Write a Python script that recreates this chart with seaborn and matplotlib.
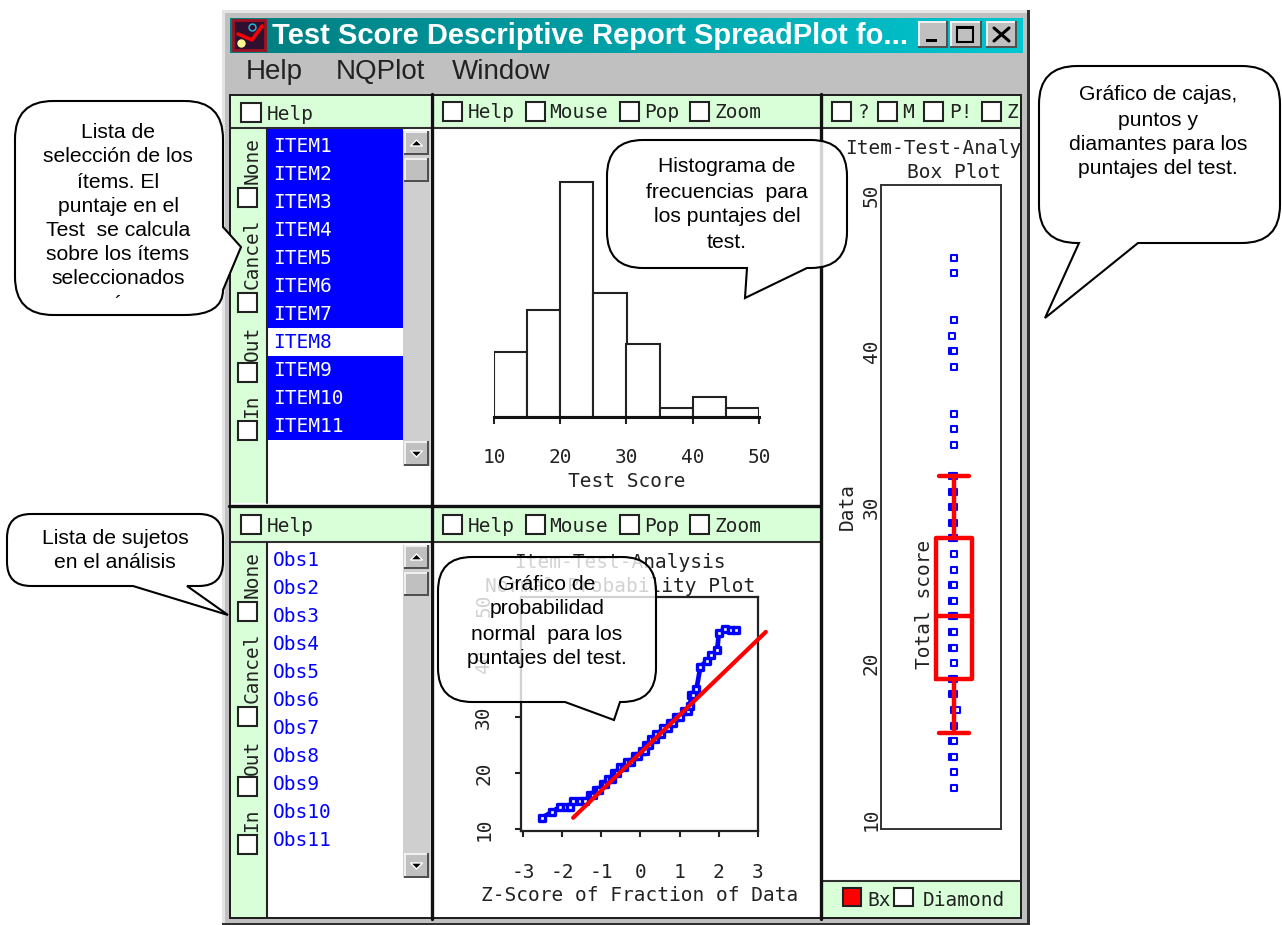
import numpy as np
import pandas as pd
import seaborn as sns
import matplotlib.pyplot as plt
from matplotlib.patches import Rectangle, PathPatch, Polygon
from matplotlib.path import Path

W, H = 1282, 925

# data
hist_edges = [10, 15, 20, 25, 30, 35, 40, 45, 50]
hist_left = [10, 15, 20, 25, 30, 35, 40, 45]
hist_pct = [10.1, 16.7, 36.6, 19.3, 11.4, 1.4, 3.1, 1.4]
hist_ticks = [10, 20, 30, 40, 50]

qq_z = [-2.52, -2.27, -2.05, -1.90, -1.80, -1.72, -1.55, -1.42, -1.29, -1.20,
        -1.14, -1.05, -0.95, -0.90, -0.83, -0.72, -0.68, -0.61, -0.53, -0.42,
        -0.34, -0.23, -0.15, -0.06, 0.03, 0.11, 0.15, 0.22, 0.28, 0.36,
        0.40, 0.52, 0.58, 0.70, 0.76, 0.83, 0.90, 1.02, 1.10, 1.22,
        1.26, 1.30, 1.35, 1.43, 1.53, 1.69, 1.81, 1.96, 2.00, 2.15,
        2.32, 2.45]
qq_score = [12, 13, 14, 14, 14, 15, 15, 15, 16, 16,
            17, 17, 18, 18, 19, 19, 20, 20, 21, 21,
            22, 22, 23, 23, 24, 24, 25, 25, 26, 26,
            27, 27, 28, 28, 29, 29, 30, 30, 31, 31,
            32, 34, 34, 35, 39, 40, 41, 42, 45, 45.8,
            45.6, 45.6]
qq_line_z = [-1.72, 3.2]
qq_line_y = [12.0, 45.2]
qq_xticks = [-3, -2, -1, 0, 1, 2, 3]
qq_yticks = [10, 20, 30, 40, 50]

box_summary = [15.5, 19, 23, 28, 32]
box_scores = [46, 45, 42, 41, 40, 40, 39, 36, 35, 34, 32, 32, 31, 31, 30, 30, 29, 29,
              28, 28, 27, 26, 25, 25, 24, 24, 23, 23, 22, 22, 21, 21, 20, 19, 19,
              18, 18, 17, 17, 16, 15, 15, 14, 14, 13, 12]
box_jitter = [0, 0, 0, -2.5, -2.5, 0, 0, 0, 0, 0, -2.5, 0, -2.5, 0, -2.5, 0, -2.5, 0,
              -2.5, 0, 0, 0, -2.5, 0, -2.5, 0, -2.5, 0, -2.5, 0, -2.5, 0, 0, -2.5, 0,
              -2.5, 0, 0, 2.5, 0, -2.5, 0, -2.5, 0, 0, 0]
box_yticks = [10, 20, 30, 40, 50]

item_names = ['ITEM1', 'ITEM2', 'ITEM3', 'ITEM4', 'ITEM5', 'ITEM6',
              'ITEM7', 'ITEM8', 'ITEM9', 'ITEM10', 'ITEM11']
obs_names = ['Obs1', 'Obs2', 'Obs3', 'Obs4', 'Obs5', 'Obs6',
             'Obs7', 'Obs8', 'Obs9', 'Obs10', 'Obs11']
side_buttons = ['None', 'Cancel', 'Out', 'In']
menu_names = ['Help', 'NQPlot', 'Window']

GRAY = '#c0c0c0'
GREEN = '#d9ffd9'
DARK = '#222222'
BLUE = '#0000ff'
RED = '#ff0000'
MONO = 'DejaVu Sans Mono'
SANS = 'Liberation Sans'

sns.set_theme(style='white')
plt.rcParams['font.family'] = SANS
plt.rcParams['font.size'] = 14
plt.rcParams['axes.unicode_minus'] = False

fig = plt.figure(figsize=(W / 100, H / 100), dpi=100, facecolor='white')


def px_axes(x0, y0, x1, y1, **kw):
    # axes from pixel box, y counted from the top like the screenshot
    return fig.add_axes([x0 / W, 1 - y1 / H, (x1 - x0) / W, (y1 - y0) / H], **kw)


def rect(ax, x0, y0, x1, y1, fc, ec='none', lw=0, z=1):
    ax.add_patch(Rectangle((x0, y0), x1 - x0, y1 - y0, fc=fc, ec=ec, lw=lw, zorder=z))


def mono(ax, x, y, s, color=DARK, ha='left', rot=0, **kw):
    return ax.text(x, y, s, color=color, ha=ha, va='center', rotation=rot,
                   family=MONO, fontsize=14, zorder=6, **kw)


def check(ax, x0, y0, x1, y1, fc='white'):
    rect(ax, x0, y0, x1, y1, fc, DARK, 1.5, z=5)


def bevel(ax, x0, y0, x1, y1):
    rect(ax, x0, y0, x1, y1, '#505050', z=4)
    rect(ax, x0, y0, x1 - 2, y1 - 2, '#f0f0f0', z=4)
    rect(ax, x0 + 2, y0 + 2, x1 - 2, y1 - 2, GRAY, z=4)


def scrollbar(ax, top, bottom):
    x0, x1 = 403, 430
    rect(ax, x0, top, x1, bottom, '#cfcfcf', z=3)
    bevel(ax, x0 + 1, top, x1 - 1, top + 24)
    bevel(ax, x0 + 1, top + 27, x1 - 1, top + 51)
    bevel(ax, x0 + 1, bottom - 25, x1 - 1, bottom)
    xm = (x0 + x1) / 2
    ax.add_patch(Polygon([[xm - 6, top + 15], [xm + 6, top + 15], [xm, top + 9]], fc='black', zorder=6))
    ax.add_patch(Polygon([[xm - 6, bottom - 15], [xm + 6, bottom - 15], [xm, bottom - 9]], fc='black', zorder=6))


def side_column(ax, dy):
    rect(ax, 231, 128 + dy, 266, 503 + dy if dy == 0 else 917, GREEN, z=2)
    for name, yc, cy in zip(side_buttons, [160, 254, 343, 406], [188, 293, 363, 421]):
        mono(ax, 252, yc + dy, name, rot=90, ha='center')
        check(ax, 238, cy + dy, 257, cy + 19 + dy)
    ax.plot([266.5, 266.5], [128 + dy, 503 + dy if dy == 0 else 917], color=DARK, lw=1.5, zorder=4)


# window chrome, underneath the plots
bg = fig.add_axes([0, 0, 1, 1], zorder=0)
bg.set_xlim(0, W)
bg.set_ylim(H, 0)
bg.axis('off')

rect(bg, 222, 10, 1030, 925, '#303030')
rect(bg, 222, 10, 1027, 923, '#e4e4e4')
rect(bg, 225, 13, 1027, 923, GRAY)

grad = np.linspace(0, 1, 256).reshape(1, -1, 1)
grad = np.concatenate([0 * grad, 0.49 + 0.29 * grad, 0.50 + 0.32 * grad], axis=2)
bg.imshow(grad, extent=(230, 1023, 53, 18), aspect='auto', zorder=1)
bg.set_xlim(0, W)
bg.set_ylim(H, 0)

# icon
rect(bg, 233, 20, 265, 50, '#301030', '#a01020', 2, z=2)
bg.plot([238, 252, 262], [34, 40, 26], color=RED, lw=2.5, zorder=3)
bg.plot([241], [43], marker='o', ms=5, color='#ffff90', zorder=3)
bg.plot([252], [27], marker='o', ms=5, mfc='none', mec='#20c0e0', zorder=3)

bg.text(272, 36, 'Test Score Descriptive Report SpreadPlot fo...', color='white',
        fontsize=21, fontweight='bold', va='center', zorder=3)

# title bar buttons
bevel(bg, 918, 21, 948, 48)
bevel(bg, 950, 21, 982, 48)
bevel(bg, 986, 21, 1017, 48)
rect(bg, 926, 39, 937, 42, 'black', z=6)
rect(bg, 957, 27, 973, 42, 'none', 'black', 1.5, z=6)
rect(bg, 957, 26, 973, 29, 'black', z=6)
bg.plot([994, 1009], [28, 41], color='black', lw=2.2, zorder=6)
bg.plot([994, 1009], [41, 28], color='black', lw=2.2, zorder=6)

for name, x in zip(menu_names, [246, 336, 452]):
    bg.text(x, 72, name, color=DARK, fontsize=20, va='center', zorder=3)

# panels
rect(bg, 229, 94, 1022, 919, '#202020')
rect(bg, 231, 96, 1020, 917, 'white', z=1)
rect(bg, 231, 96, 430, 128, GREEN, z=2)
rect(bg, 433, 96, 819, 128, GREEN, z=2)
rect(bg, 822, 96, 1020, 128, GREEN, z=2)
rect(bg, 231, 508, 430, 542, GREEN, z=2)
rect(bg, 433, 508, 819, 542, GREEN, z=2)
rect(bg, 822, 881, 1020, 917, GREEN, z=2)
for y, x0, x1 in [(128, 231, 1020), (542, 231, 820), (881, 822, 1020)]:
    bg.plot([x0, x1], [y, y], color='#303030', lw=1.5, zorder=4)
bg.plot([229, 820], [505.5, 505.5], color='#111111', lw=2.4, zorder=4)
bg.plot([431.5, 431.5], [94, 919], color='#111111', lw=2.4, zorder=4)
bg.plot([820.5, 820.5], [94, 919], color='#111111', lw=2.4, zorder=4)

side_column(bg, 0)
side_column(bg, 414)

# item and observation lists
rect(bg, 267, 129, 403, 440, BLUE, z=2)
for i, name in enumerate(item_names):
    yc = 146 + 28 * i
    if name == 'ITEM8':
        rect(bg, 267, yc - 14, 403, yc + 14, 'white', z=3)
        mono(bg, 273, yc, name, color=BLUE)
    else:
        mono(bg, 273, yc, name, color='white')
for i, name in enumerate(obs_names):
    mono(bg, 273, 560 + 28 * i, name, color=BLUE)
scrollbar(bg, 131, 466)
scrollbar(bg, 545, 878)

# header check boxes
for dy, top in [(0, 103), (414, 515)]:
    check(bg, 241, top, 261, top + 19)
    mono(bg, 267, top + 11, 'Help')
for top in [102, 515]:
    for x, tx, name in zip([443, 526, 620, 690], [468, 549, 644, 715], ['Help', 'Mouse', 'Pop', 'Zoom']):
        check(bg, x, top, x + 19, top + 19)
        mono(bg, tx, top + 11, name)
for x, tx, name in zip([832, 878, 924, 982], [858, 902, 949, 1007], ['?', 'M', 'P!', 'Z']):
    check(bg, x, 102, x + 19, 121)
    mono(bg, tx, 113, name)
check(bg, 843, 888, 861, 906, fc=RED)
mono(bg, 867, 900, 'Bx')
check(bg, 894, 888, 913, 906)
mono(bg, 923, 900, 'Diamond')

# plot titles
mono(bg, 620, 563, 'Item-Test-Analysis', ha='center')
mono(bg, 620, 586, 'Normal Probability Plot', ha='center')
t = mono(bg, 845, 149, 'Item-Test-Analysis')
t.set_clip_on(True)
t.set_clip_path(Rectangle((822, 130), 198, 40, transform=bg.transData))
mono(bg, 954, 173, 'Box Plot', ha='center')

# histogram
ax_hist = px_axes(494, 130, 759, 417, zorder=1)
ax_hist.patch.set_alpha(0)
sns.histplot(x=hist_left, weights=hist_pct, bins=hist_edges, color='white', alpha=1,
             edgecolor=DARK, linewidth=1.5, ax=ax_hist)
ax_hist.set_xlim(10, 50)
ax_hist.set_ylim(0, 287 / 6.42)
sns.despine(ax=ax_hist, left=True)
ax_hist.spines['bottom'].set_linewidth(2.2)
ax_hist.spines['bottom'].set_color('#111111')
ax_hist.set_yticks([])
ax_hist.set_ylabel('')
ax_hist.set_xticks(hist_ticks)
ax_hist.tick_params(axis='x', bottom=True, length=5, width=1.5, color=DARK, pad=17,
                    labelsize=14, labelcolor=DARK)
ax_hist.set_xlabel('Test Score', family=MONO, fontsize=14, color=DARK, labelpad=4)
for lab in ax_hist.get_xticklabels():
    lab.set_family(MONO)

# normal probability plot
ax_qq = px_axes(521, 597, 758, 831, zorder=1)
ax_qq.patch.set_alpha(0)
df_qq = pd.DataFrame({'z': qq_z, 'score': qq_score})
sns.lineplot(data=df_qq, x='z', y='score', color=BLUE, lw=3.4, sort=False, estimator=None, ax=ax_qq)
sns.scatterplot(data=df_qq, x='z', y='score', marker='s', s=24, facecolor='white',
                edgecolor=BLUE, linewidth=2.4, ax=ax_qq, zorder=3)
sns.lineplot(x=qq_line_z, y=qq_line_y, color=RED, lw=3, sort=False, estimator=None, ax=ax_qq,
             zorder=4, clip_on=False)
ax_qq.set_xlim(-3.05, 3.0)
ax_qq.set_ylim(10 - 2 / 5.6, 10 + 232 / 5.6)
ax_qq.set_xticks(qq_xticks)
ax_qq.set_yticks(qq_yticks)
ax_qq.tick_params(axis='both', left=True, bottom=True, length=4, width=1.5, color=DARK,
                  labelsize=14, labelcolor=DARK)
ax_qq.tick_params(axis='x', pad=19)
ax_qq.tick_params(axis='y', pad=16)
for lab in ax_qq.get_xticklabels() + ax_qq.get_yticklabels():
    lab.set_family(MONO)
for lab in ax_qq.get_yticklabels():
    lab.set_rotation(90)
    lab.set_va('center')
for sp in ax_qq.spines.values():
    sp.set_linewidth(1.6)
    sp.set_color(DARK)
ax_qq.set_xlabel('Z-Score of Fraction of Data', family=MONO, fontsize=14, color=DARK, labelpad=3)
ax_qq.set_ylabel('')

# box plot with the points
ax_box = px_axes(881, 185, 1001, 829, zorder=1)
ax_box.patch.set_alpha(0)
sns.scatterplot(x=box_jitter, y=box_scores, marker='s', s=16, facecolor='white',
                edgecolor=BLUE, linewidth=1.5, ax=ax_box, zorder=2)
sns.boxplot(y=box_summary, width=36, fill=False, color=RED, linewidth=3.2, capwidths=30,
            showfliers=False, ax=ax_box, zorder=3)
ax_box.set_xlim(-73, 47)
ax_box.set_ylim(10 - (829 - 819.2) / 15.6, 10 + (819.2 - 185) / 15.6)
ax_box.set_xticks([])
ax_box.set_yticks(box_yticks)
ax_box.tick_params(axis='y', left=False, pad=-6, labelsize=14, labelcolor=DARK)
for lab in ax_box.get_yticklabels():
    lab.set_family(MONO)
    lab.set_rotation(90)
    lab.set_va('center')
for sp in ax_box.spines.values():
    sp.set_linewidth(1.4)
    sp.set_color('#333333')
ax_box.set_ylabel('Data', family=MONO, fontsize=14, color=DARK, labelpad=4)
ax_box.text(-29, 23.8, 'Total score', family=MONO, fontsize=14, color=DARK, rotation=90,
            ha='center', va='center')

# callouts on top of everything
over = fig.add_axes([0, 0, 1, 1], zorder=5)
over.set_xlim(0, W)
over.set_ylim(H, 0)
over.axis('off')
over.patch.set_alpha(0)


def bubble(x0, y0, x1, y1, r, tail, lines, xc, ys, alpha=1.0):
    # tail = (side, a, tip_x, tip_y, b): side 'b' bottom or 'r' right
    side, a, tx, ty, b = tail
    verts = [(x0 + r, y0), (x1 - r, y0), (x1, y0), (x1, y0 + r)]
    codes = [Path.MOVETO, Path.LINETO, Path.CURVE3, Path.CURVE3]
    low = y1 - r
    if side == 'r':
        verts += [(x1, a), (tx, ty), (x1, b)]
        codes += [Path.LINETO] * 3
        low = max(low, b)
    verts += [(x1, low), (x1, y1), (x1 - r, y1)]
    codes += [Path.LINETO, Path.CURVE3, Path.CURVE3]
    if side == 'b':
        verts += [(b, y1), (tx, ty), (a, y1)]
        codes += [Path.LINETO] * 3
    verts += [(x0 + r, y1), (x0, y1), (x0, y1 - r), (x0, y0 + r), (x0, y0), (x0 + r, y0)]
    codes += [Path.LINETO, Path.CURVE3, Path.CURVE3, Path.LINETO, Path.CURVE3, Path.CURVE3]
    over.add_patch(PathPatch(Path(verts, codes), fc=(1, 1, 1, alpha), ec='black', lw=1.5, zorder=2))
    for s, y in zip(lines, ys):
        over.text(xc, y, s, ha='center', va='center', fontsize=15.2, color='black', zorder=3)


bubble(15, 101, 223, 315, 38, ('r', 227, 241, 247, 290),
       ['Lista de', 'selección de los', 'ítems. El', 'puntaje en el',
        'Test  se calcula', 'sobre los ítems', 'seleccionados', '´'],
       118, [132, 156, 182, 206, 230, 254, 279, 304])
bubble(607, 140, 847, 268, 36, ('b', 747, 745, 298, 807),
       ['Histograma de', 'frecuencias  para', 'los puntajes del', 'test.'],
       727, [167, 192, 217, 242], alpha=0.82)
bubble(1039, 66, 1280, 243, 38, ('b', 1079, 1045, 318, 1138),
       ['Gráfico de cajas,', 'puntos y', 'diamantes para los', 'puntajes del test.'],
       1158, [95, 120, 144, 168])
bubble(7, 514, 223, 586, 24, ('b', 133, 228, 615, 187),
       ['Lista de sujetos', 'en el análisis'], 115, [538, 563])
bubble(438, 557, 656, 702, 34, ('b', 565, 614, 720, 620),
       ['Gráfico de', 'probabilidad', 'normal  para los', 'puntajes del test.'],
       547, [584, 609, 634, 659], alpha=0.8)

fig.savefig('out.png', dpi=100)
